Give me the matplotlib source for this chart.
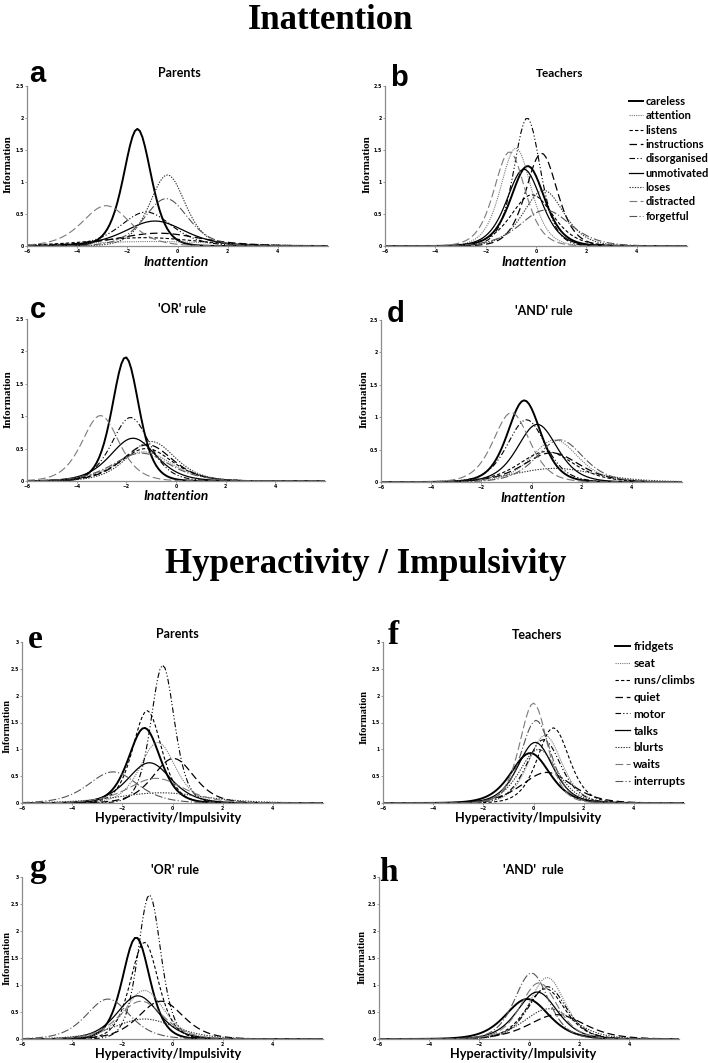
import numpy as np
import matplotlib
matplotlib.use("Agg")
import matplotlib.pyplot as plt

# ---------------- data (peak location on latent trait, peak information) -------------
ia_items = ["careless", "attention", "listens", "instructions", "disorganised",
            "unmotivated", "loses", "distracted", "forgetful"]
hi_items = ["fridgets", "seat", "runs/climbs", "quiet", "motor",
            "talks", "blurts", "waits", "interrupts"]

ia_parents_loc = [-1.60, -1.00, -1.30, -0.75, -1.25, -0.90, -0.40, -2.85, -0.45]
ia_parents_peak = [1.83, 0.07, 0.13, 0.20, 0.53, 0.39, 1.11, 0.63, 0.74]

ia_teachers_loc = [-0.33, -0.80, -0.16, 0.22, -0.35, -0.48, 0.30, -1.05, 0.37]
ia_teachers_peak = [1.25, 1.53, 0.80, 1.45, 2.00, 1.20, 0.87, 1.47, 0.56]

ia_or_loc = [-2.03, -1.30, -1.20, -1.15, -1.83, -1.73, -1.00, -3.04, -1.40]
ia_or_peak = [1.91, 0.45, 0.50, 0.56, 0.98, 0.66, 0.61, 1.01, 0.43]

ia_and_loc = [-0.29, 0.93, 0.60, 0.80, -0.20, 0.23, 0.93, -0.80, 1.13]
ia_and_peak = [1.26, 0.65, 0.47, 0.45, 0.96, 0.89, 0.21, 1.07, 0.65]

hi_parents_loc = [-1.12, -0.59, -1.01, 0.04, -0.39, -0.92, -0.46, -0.66, -2.37]
hi_parents_peak = [1.40, 1.13, 1.72, 0.83, 2.57, 0.75, 0.19, 0.46, 0.58]

hi_teachers_loc = [-0.13, 0.46, 0.79, 0.53, 0.40, 0.07, 0.20, 0.00, 0.10]
hi_teachers_peak = [0.93, 1.26, 1.40, 0.57, 1.18, 1.13, 1.00, 1.86, 1.54]

hi_or_loc = [-1.45, -1.12, -1.12, -0.46, -0.92, -1.38, -1.12, -1.25, -2.57]
hi_or_peak = [1.88, 0.90, 1.79, 0.70, 2.67, 0.80, 0.37, 0.70, 0.74]

hi_and_loc = [-0.07, 0.73, 0.66, 1.12, 0.73, 0.33, 0.80, 0.40, 0.10]
hi_and_peak = [0.74, 1.14, 0.93, 0.45, 0.97, 0.87, 0.56, 1.04, 1.22]

x_ticks = [-6, -4, -2, 0, 2, 4]
y_ticks_ia = [0, 0.5, 1, 1.5, 2, 2.5]
y_ticks_hi = [0, 0.5, 1, 1.5, 2, 2.5, 3]

# ---------------- styles ----------------
GRAY = "#7a7a7a"
styles = [
    dict(color="black", lw=1.4, ls="-"),
    dict(color=GRAY, lw=0.8, ls=(0, (1, 1))),
    dict(color="black", lw=0.8, ls=(0, (3, 2))),
    dict(color="black", lw=0.9, ls=(0, (6, 3))),
    dict(color="black", lw=0.8, ls=(0, (5, 2, 1, 2, 1, 2))),
    dict(color="black", lw=0.9, ls="-"),
    dict(color="#333333", lw=0.8, ls=(0, (1.2, 1.2))),
    dict(color=GRAY, lw=0.8, ls=(0, (7, 3))),
    dict(color="#555555", lw=0.8, ls=(0, (7, 2, 1, 2))),
]

theta = np.arange(-6.0, 6.0001, 0.1)


def info_curve(loc, peak):
    a = 2.0 * np.sqrt(peak)
    p = 1.0 / (1.0 + np.exp(-a * (theta - loc)))
    return a * a * p * (1.0 - p)


W, H = 708, 1063
fig = plt.figure(figsize=(W / 100, H / 100), dpi=100)

SANS = ["Lato", "DejaVu Sans"]
SERIF = ["Liberation Serif", "DejaVu Serif"]


def rect(l, t, r, b):
    return [l / W, 1 - b / H, (r - l) / W, (b - t) / H]


def T(x, y, s, **kw):
    return fig.text(x / W, 1 - y / H, s, **kw)


panels = [
    dict(r=(27, 86, 328, 246), loc=ia_parents_loc, pk=ia_parents_peak, yt=y_ticks_ia),
    dict(r=(385, 86, 687, 246), loc=ia_teachers_loc, pk=ia_teachers_peak, yt=y_ticks_ia),
    dict(r=(27, 319, 325, 481), loc=ia_or_loc, pk=ia_or_peak, yt=y_ticks_ia),
    dict(r=(381, 320, 682, 482), loc=ia_and_loc, pk=ia_and_peak, yt=y_ticks_ia),
    dict(r=(22, 642, 323, 803), loc=hi_parents_loc, pk=hi_parents_peak, yt=y_ticks_hi),
    dict(r=(383, 642, 684, 803), loc=hi_teachers_loc, pk=hi_teachers_peak, yt=y_ticks_hi),
    dict(r=(22, 877, 323, 1039), loc=hi_or_loc, pk=hi_or_peak, yt=y_ticks_hi),
    dict(r=(379, 877, 679, 1039), loc=hi_and_loc, pk=hi_and_peak, yt=y_ticks_hi),
]

axes = []
for i, p in enumerate(panels):
    ax = fig.add_axes(rect(*p["r"]))
    items = ia_items if i < 4 else hi_items
    for j, name in enumerate(items):
        ax.plot(theta, info_curve(p["loc"][j], p["pk"][j]), label=name, **styles[j])
    ax.set_xlim(-6, 6)
    ax.set_ylim(0, p["yt"][-1])
    ax.set_xticks(x_ticks)
    ax.set_yticks(p["yt"])
    ax.set_yticklabels([("%g" % v) for v in p["yt"]])
    for s in ["top", "right"]:
        ax.spines[s].set_visible(False)
    for s in ["left", "bottom"]:
        ax.spines[s].set_color("#8c8c8c")
        ax.spines[s].set_linewidth(0.9)
    ax.tick_params(axis="both", length=1.5, width=0.6, color="#8c8c8c", pad=0.8,
                   labelsize=3.3)
    for lab in ax.get_xticklabels() + ax.get_yticklabels():
        lab.set_fontweight("bold")
    axes.append(ax)

# legends
axes[1].legend(loc="upper left", bbox_to_anchor=(629 / W, 1 - 96 / H),
               bbox_transform=fig.transFigure, frameon=False,
               prop=dict(family=SANS, weight="bold", size=8),
               handlelength=1.25, handletextpad=0.25, labelspacing=0.3,
               borderpad=0, borderaxespad=0)
axes[5].legend(loc="upper left", bbox_to_anchor=(615 / W, 1 - 641 / H),
               bbox_transform=fig.transFigure, frameon=False,
               prop=dict(family=SANS, weight="bold", size=8.5),
               handlelength=1.3, handletextpad=0.25, labelspacing=0.5,
               borderpad=0, borderaxespad=0)

# main titles
T(331, 29, "Inattention", family=SERIF, weight="bold", size=25, ha="center", va="baseline")
T(366, 573, "Hyperactivity / Impulsivity", family=SERIF, weight="bold", size=25,
  ha="center", va="baseline")

# panel letters
sans_letters = [("a", 37.5, 82), ("b", 399, 86), ("c", 38, 318), ("d", 396, 322)]
for s, x, y in sans_letters:
    T(x, y, s, family=["Liberation Sans", "DejaVu Sans"], weight="bold", size=21,
      ha="center", va="baseline")
serif_letters = [("e", 35, 648), ("f", 393, 644), ("g", 37.5, 877), ("h", 388, 881)]
for s, x, y in serif_letters:
    T(x, y, s, family=SERIF, weight="bold", size=24, ha="center", va="baseline")

# panel titles
ptitles = [("Parents", 179, 77, 9), ("Teachers", 560, 77, 8.5), ("'OR' rule", 182, 313, 9),
           ("'AND' rule", 544, 315, 9), ("Parents", 177.5, 638, 9),
           ("Teachers", 537, 639, 9), ("'OR' rule", 175, 874, 9),
           ("'AND'  rule", 533, 874, 9)]
for s, x, y, fs in ptitles:
    T(x, y, s, family=SANS, weight="bold", size=fs, ha="center", va="baseline")

# x labels
xl = [("Inattention", 176, 266, "italic"), ("Inattention", 534, 266, "italic"),
      ("Inattention", 176, 500, "italic"), ("Inattention", 533, 502, "italic"),
      ("Hyperactivity/Impulsivity", 168, 822, "normal"),
      ("Hyperactivity/Impulsivity", 528, 822, "normal"),
      ("Hyperactivity/Impulsivity", 168, 1058, "normal"),
      ("Hyperactivity/Impulsivity", 523.5, 1058, "normal")]
for s, x, y, st in xl:
    fs = 9.8 if st == "italic" else 9.2
    T(x, y, s, family=SANS, weight="bold", style=st, size=fs, ha="center", va="baseline")

# y labels
yl = [(8.5, 164, 8), (367, 164, 8), (8.5, 399, 8), (364, 399, 8), (7, 726, 7.5),
      (364, 717, 7.5), (7, 958, 7.5), (362, 957, 7.5)]
for x, y, fs in yl:
    T(x, y, "Information", family=SERIF, weight="bold", size=fs, rotation=90,
      ha="center", va="center")

fig.savefig("out.png", dpi=100)
